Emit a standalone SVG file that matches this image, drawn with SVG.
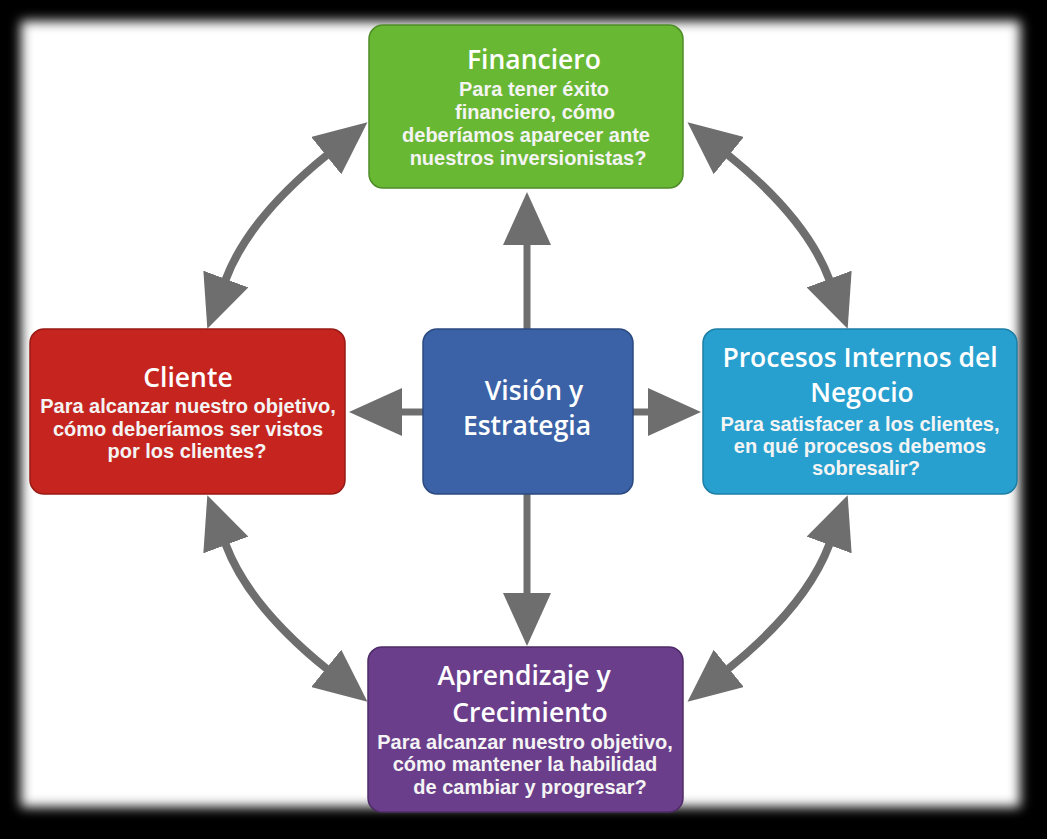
<svg xmlns="http://www.w3.org/2000/svg" width="1047" height="839" viewBox="0 0 1047 839">
  <defs>
    <filter id="soft" x="-10%" y="-10%" width="120%" height="120%">
      <feGaussianBlur stdDeviation="6"/>
    </filter>
    <marker id="head" viewBox="0 -24 53 48" refX="1" refY="0" markerWidth="53" markerHeight="48" markerUnits="userSpaceOnUse" orient="auto-start-reverse">
      <path d="M0,-24 L53,0 L0,24 Z" fill="#6e6e6e"/>
    </marker>
    <style>
      .box { stroke-width: 1.5; }
      .title { font-family: "Open Sans", "Liberation Sans", sans-serif; font-weight: 600; font-size: 26.5px; fill: #ffffff; text-anchor: middle; }
      .body { font-family: "Liberation Sans", Arial, sans-serif; font-weight: bold; font-size: 20px; fill: #f4f4f4; text-anchor: middle; }
      .conn { fill: none; stroke: #6e6e6e; stroke-width: 7; }
      .curve { fill: none; stroke: #6e6e6e; stroke-width: 8; }
    </style>
  </defs>

  <rect x="0" y="0" width="1047" height="839" fill="#000000"/>
  <rect x="21" y="21" width="999" height="786" fill="#ffffff" filter="url(#soft)"/>

  <g id="connectors">
    <line class="conn" x1="527" y1="329" x2="527" y2="244" marker-end="url(#head)"/>
    <line class="conn" x1="527" y1="494" x2="527" y2="594" marker-end="url(#head)"/>
    <line class="conn" x1="423" y1="412" x2="401" y2="412" marker-end="url(#head)"/>
    <line class="conn" x1="633" y1="412" x2="649" y2="412" marker-end="url(#head)"/>
    <path class="curve" d="M225.5,280 Q248.5,218.3 327,155" marker-start="url(#head)" marker-end="url(#head)"/>
    <path class="curve" d="M829.5,280 Q806.5,218.3 728,155" marker-start="url(#head)" marker-end="url(#head)"/>
    <path class="curve" d="M225.5,544 Q248.5,605.7 327,669" marker-start="url(#head)" marker-end="url(#head)"/>
    <path class="curve" d="M829.5,544 Q806.5,605.7 728,669" marker-start="url(#head)" marker-end="url(#head)"/>
  </g>

  <g id="financiero">
    <rect class="box" x="369" y="25" width="314" height="163" rx="14" fill="#69b834" stroke="#4e8c27"/>
    <text class="title" x="534" y="69">Financiero</text>
    <text class="body" x="534" y="96">Para tener éxito</text>
    <text class="body" x="535" y="119">financiero, cómo</text>
    <text class="body" x="526" y="142">deberíamos aparecer ante</text>
    <text class="body" x="528" y="165">nuestros inversionistas?</text>
  </g>

  <g id="cliente">
    <rect class="box" x="30" y="329" width="315" height="165" rx="14" fill="#c6251f" stroke="#981a15"/>
    <text class="title" x="188" y="387">Cliente</text>
    <text class="body" x="188" y="413">Para alcanzar nuestro objetivo,</text>
    <text class="body" x="188" y="436">cómo deberíamos ser vistos</text>
    <text class="body" x="187" y="458">por los clientes?</text>
  </g>

  <g id="vision">
    <rect class="box" x="423" y="329" width="210" height="165" rx="14" fill="#3b62a7" stroke="#2b4a80"/>
    <text class="title" x="534" y="400">Visión y</text>
    <text class="title" x="527" y="435">Estrategia</text>
  </g>

  <g id="procesos">
    <rect class="box" x="703" y="329" width="314" height="165" rx="14" fill="#28a0cf" stroke="#1c7ea5"/>
    <text class="title" x="860" y="367">Procesos Internos del</text>
    <text class="title" x="862" y="402">Negocio</text>
    <text class="body" x="860" y="431">Para satisfacer a los clientes,</text>
    <text class="body" x="860" y="453">en qué procesos debemos</text>
    <text class="body" x="866" y="475">sobresalir?</text>
  </g>

  <g id="aprendizaje">
    <rect class="box" x="368" y="647" width="315" height="165" rx="14" fill="#6a3e8b" stroke="#4d2c66"/>
    <text class="title" x="524" y="685">Aprendizaje y</text>
    <text class="title" x="530" y="722">Crecimiento</text>
    <text class="body" x="525" y="749">Para alcanzar nuestro objetivo,</text>
    <text class="body" x="525" y="771">cómo mantener la habilidad</text>
    <text class="body" x="530" y="794">de cambiar y progresar?</text>
  </g>
</svg>
